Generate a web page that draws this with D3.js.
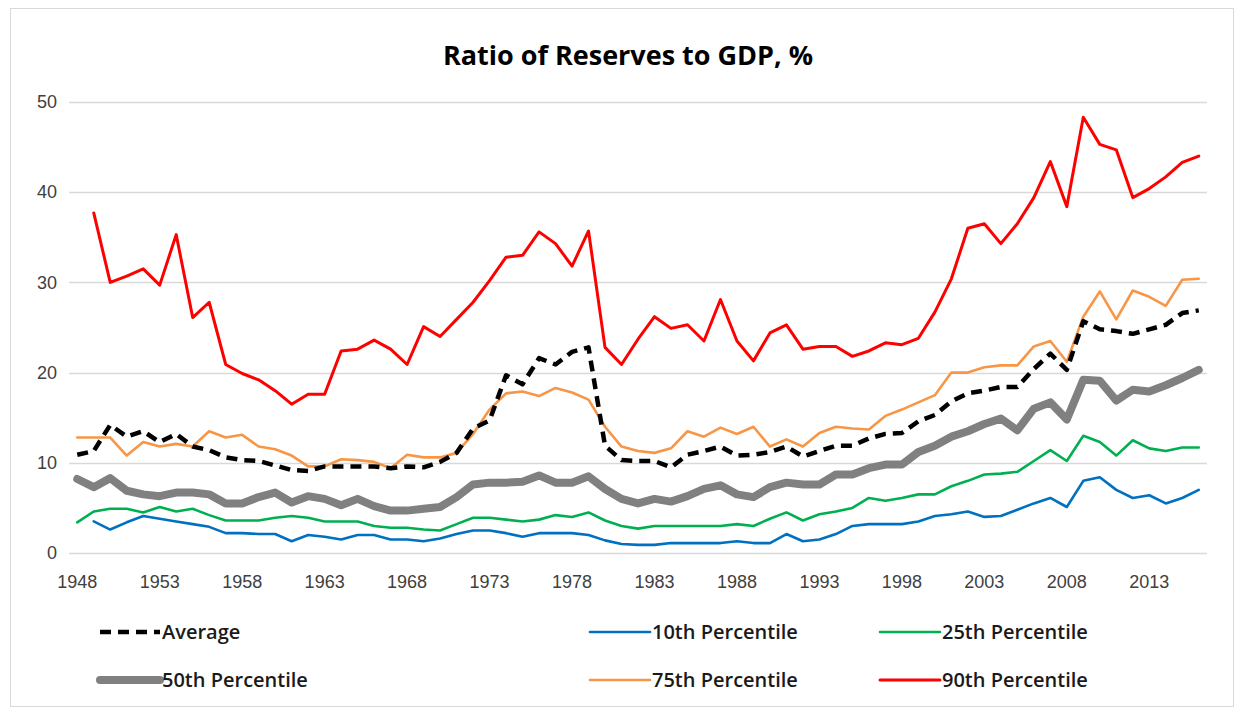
<!DOCTYPE html>
<html>
<head>
<meta charset="utf-8">
<script src="https://cdn.jsdelivr.net/npm/d3@7"></script>
<style>
  body { margin: 0; background: #fff; }
  svg { display: block; font-family: 'Open Sans', 'Liberation Sans', sans-serif; }
</style>
</head>
<body>
<div id="chart"></div>
<script>
// data, one value per year 1948..2016
const years = d3.range(1948, 2017);
const tickYears = d3.range(1948, 2017, 5);
const yTicks = [0, 10, 20, 30, 40, 50];

const average = [10.9, 11.3, 14.2, 12.9, 13.5, 12.3, 13.2, 11.8, 11.4, 10.6,
  10.3, 10.2, 9.7, 9.2, 9.1, 9.6, 9.6, 9.6, 9.6, 9.4,
  9.6, 9.5, 10.1, 11.1, 13.8, 14.7, 19.7, 18.7, 21.6, 20.9,
  22.3, 22.8, 11.9, 10.3, 10.2, 10.2, 9.5, 10.9, 11.3, 11.8,
  10.8, 10.9, 11.2, 11.8, 10.7, 11.3, 11.9, 11.9, 12.7, 13.2,
  13.3, 14.6, 15.3, 16.8, 17.7, 18.0, 18.4, 18.4, 20.4, 22.1,
  20.3, 25.7, 24.8, 24.6, 24.3, 24.8, 25.3, 26.6, 26.9];

const p10 = [null, 3.5, 2.6, 3.4, 4.1, 3.8, 3.5, 3.2, 2.9, 2.2,
  2.2, 2.1, 2.1, 1.3, 2.0, 1.8, 1.5, 2.0, 2.0, 1.5,
  1.5, 1.3, 1.6, 2.1, 2.5, 2.5, 2.2, 1.8, 2.2, 2.2,
  2.2, 2.0, 1.4, 1.0, 0.9, 0.9, 1.1, 1.1, 1.1, 1.1,
  1.3, 1.1, 1.1, 2.1, 1.3, 1.5, 2.1, 3.0, 3.2, 3.2,
  3.2, 3.5, 4.1, 4.3, 4.6, 4.0, 4.1, 4.8, 5.5, 6.1,
  5.1, 8.0, 8.4, 7.0, 6.1, 6.4, 5.5, 6.1, 7.0];

const p25 = [3.4, 4.6, 4.9, 4.9, 4.5, 5.1, 4.6, 4.9, 4.2, 3.6,
  3.6, 3.6, 3.9, 4.1, 3.9, 3.5, 3.5, 3.5, 3.0, 2.8,
  2.8, 2.6, 2.5, 3.2, 3.9, 3.9, 3.7, 3.5, 3.7, 4.2,
  4.0, 4.5, 3.6, 3.0, 2.7, 3.0, 3.0, 3.0, 3.0, 3.0,
  3.2, 3.0, 3.8, 4.5, 3.6, 4.3, 4.6, 5.0, 6.1, 5.8,
  6.1, 6.5, 6.5, 7.4, 8.0, 8.7, 8.8, 9.0, 10.2, 11.4,
  10.2, 13.0, 12.3, 10.8, 12.5, 11.6, 11.3, 11.7, 11.7];

const p50 = [8.2, 7.3, 8.3, 6.9, 6.5, 6.3, 6.7, 6.7, 6.5, 5.5,
  5.5, 6.2, 6.7, 5.6, 6.3, 6.0, 5.3, 6.0, 5.2, 4.7,
  4.7, 4.9, 5.1, 6.2, 7.6, 7.8, 7.8, 7.9, 8.6, 7.8,
  7.8, 8.5, 7.1, 6.0, 5.5, 6.0, 5.7, 6.3, 7.1, 7.5,
  6.5, 6.2, 7.3, 7.8, 7.6, 7.6, 8.7, 8.7, 9.4, 9.8,
  9.8, 11.2, 11.9, 12.9, 13.5, 14.3, 14.9, 13.6, 16.0, 16.7,
  14.8, 19.2, 19.1, 16.9, 18.1, 17.9, 18.6, 19.4, 20.3];

const p75 = [12.8, 12.8, 12.8, 10.8, 12.3, 11.8, 12.1, 11.8, 13.5, 12.8,
  13.1, 11.8, 11.5, 10.8, 9.6, 9.6, 10.4, 10.3, 10.1, 9.4,
  10.9, 10.6, 10.6, 11.1, 13.2, 15.9, 17.7, 17.9, 17.4, 18.3,
  17.8, 17.0, 14.0, 11.8, 11.3, 11.1, 11.6, 13.5, 12.9, 13.9,
  13.2, 14.0, 11.8, 12.6, 11.8, 13.3, 14.0, 13.8, 13.7, 15.2,
  15.9, 16.7, 17.5, 20.0, 20.0, 20.6, 20.8, 20.8, 22.9, 23.5,
  21.2, 26.2, 29.0, 25.9, 29.1, 28.4, 27.4, 30.3, 30.4];

const p90 = [null, 37.7, 30.0, 30.7, 31.5, 29.7, 35.3, 26.1, 27.8, 20.9,
  19.9, 19.2, 18.0, 16.5, 17.6, 17.6, 22.4, 22.6, 23.6, 22.6,
  20.9, 25.1, 24.0, 25.9, 27.8, 30.2, 32.8, 33.0, 35.6, 34.3,
  31.8, 35.7, 22.8, 20.9, 23.7, 26.2, 24.9, 25.3, 23.5, 28.1,
  23.5, 21.3, 24.4, 25.3, 22.6, 22.9, 22.9, 21.8, 22.4, 23.3,
  23.1, 23.8, 26.7, 30.4, 36.0, 36.5, 34.3, 36.5, 39.4, 43.4,
  38.4, 48.3, 45.3, 44.7, 39.4, 40.4, 41.7, 43.3, 44.0];

const series = [
  { name: 'Average', values: average, color: '#000000', width: 4.5, dash: '11,7' },
  { name: '10th Percentile', values: p10, color: '#0070C0', width: 2.6 },
  { name: '25th Percentile', values: p25, color: '#00B050', width: 2.6 },
  { name: '50th Percentile', values: p50, color: '#808080', width: 8 },
  { name: '75th Percentile', values: p75, color: '#F79646', width: 2.6 },
  { name: '90th Percentile', values: p90, color: '#FF0000', width: 3 }
];
// draw order: thin percentiles first, then median, then average on top
const drawOrder = [5, 4, 2, 1, 3, 0];

const width = 1244, height = 715;
const margin = { top: 102, right: 37, bottom: 163, left: 69 };

const svg = d3.select('#chart').append('svg')
  .attr('width', width)
  .attr('height', height);

// chart border
svg.append('rect')
  .attr('x', 10.5).attr('y', 8.5)
  .attr('width', 1223).attr('height', 698)
  .attr('fill', 'none')
  .attr('stroke', '#d9d9d9');

const x = d3.scaleBand()
  .domain(years)
  .range([margin.left, width - margin.right]);

const y = d3.scaleLinear()
  .domain([0, 50])
  .range([height - margin.bottom + 1, margin.top]);

const cx = (yr) => x(yr) + x.bandwidth() / 2;

// title
svg.append('text')
  .attr('x', 628)
  .attr('y', 65)
  .attr('text-anchor', 'middle')
  .style('font-size', '27px')
  .style('font-weight', 'bold')
  .attr('fill', '#000')
  .text('Ratio of Reserves to GDP, %');

// gridlines
svg.append('g')
  .selectAll('line')
  .data(yTicks)
  .join('line')
  .attr('x1', margin.left)
  .attr('x2', width - margin.right)
  .attr('y1', (d) => Math.round(y(d)) + 0.5)
  .attr('y2', (d) => Math.round(y(d)) + 0.5)
  .attr('stroke', '#d9d9d9')
  .attr('stroke-width', 1.5);

// y axis labels
const yAxis = svg.append('g')
  .attr('transform', `translate(${margin.left - 6},0)`)
  .call(d3.axisLeft(y).tickValues(yTicks).tickSize(0).tickPadding(6));
yAxis.select('.domain').remove();
yAxis.selectAll('text')
  .style('font-size', '18px')
  .attr('fill', '#404040');

// x axis labels
const xAxis = svg.append('g')
  .attr('transform', `translate(0,${y(0) + 14})`)
  .call(d3.axisBottom(x).tickValues(tickYears).tickSize(0).tickPadding(8));
xAxis.select('.domain').remove();
xAxis.selectAll('text')
  .style('font-size', '18px')
  .attr('fill', '#404040');

// lines
const line = d3.line()
  .defined((d) => d.v != null)
  .x((d) => cx(d.year))
  .y((d) => y(d.v));

svg.append('g')
  .selectAll('path')
  .data(drawOrder.map((i) => series[i]))
  .join('path')
  .attr('fill', 'none')
  .attr('stroke', (d) => d.color)
  .attr('stroke-width', (d) => d.width)
  .attr('stroke-dasharray', (d) => d.dash || null)
  .attr('stroke-linejoin', 'round')
  .attr('stroke-linecap', (d) => (d.dash ? 'butt' : 'round'))
  .attr('d', (d) => line(years.map((yr, i) => ({ year: yr, v: d.values[i] }))));

// legend
const legendCols = [100, 590, 880];
const legendRows = [632, 680];

const legend = svg.append('g')
  .selectAll('g')
  .data(series)
  .join('g')
  .attr('transform', (d, i) =>
    `translate(${legendCols[i % 3]},${legendRows[Math.floor(i / 3)]})`);

legend.append('line')
  .attr('x1', 0)
  .attr('x2', 60)
  .attr('stroke', (d) => d.color)
  .attr('stroke-width', (d) => d.width)
  .attr('stroke-dasharray', (d) => d.dash || null)
  .attr('stroke-linecap', (d) => (d.dash ? 'butt' : 'round'));

legend.append('text')
  .attr('x', 62)
  .attr('y', 7)
  .style('font-size', '20px')
  .style('font-weight', '600')
  .attr('fill', '#1a1a1a')
  .text((d) => d.name);
</script>
</body>
</html>
